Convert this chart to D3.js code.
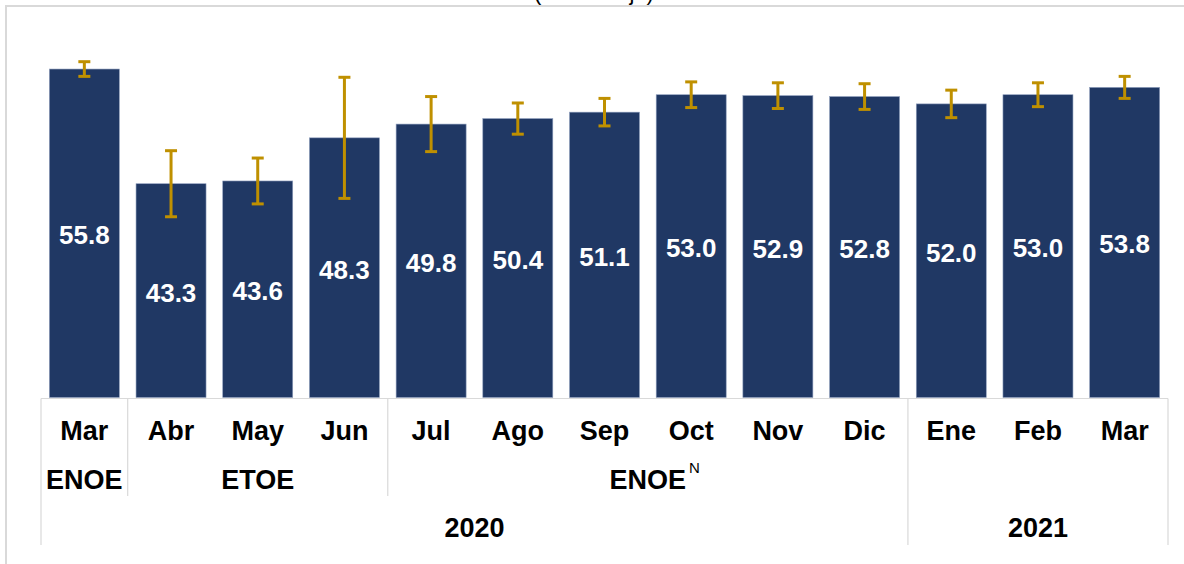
<!DOCTYPE html>
<html>
<head>
<meta charset="utf-8">
<script src="https://cdn.jsdelivr.net/npm/d3@7"></script>
<style>
  html, body { margin: 0; padding: 0; background: #ffffff; }
  svg { display: block; }
  text { font-family: "Liberation Sans", Arial, sans-serif; }
</style>
</head>
<body>
<svg id="chart" width="1184" height="564"></svg>
<script>
// ---- data ----
const months = ["Mar", "Abr", "May", "Jun", "Jul", "Ago", "Sep", "Oct", "Nov", "Dic", "Ene", "Feb", "Mar"];
const values = [55.8, 43.3, 43.6, 48.3, 49.8, 50.4, 51.1, 53.0, 52.9, 52.8, 52.0, 53.0, 53.8];
const errors = [0.8, 3.6, 2.5, 6.6, 3.0, 1.7, 1.5, 1.4, 1.4, 1.4, 1.5, 1.3, 1.2];
const surveyLabels = ["ENOE", "ETOE", "ENOE"];
const surveySup = ["", "", "N"];
const surveyStart = [0, 1, 4];
const surveyEnd = [1, 4, 10];
const yearLabels = ["2020", "2021"];
const yearStart = [0, 10];
const yearEnd = [10, 13];
const subtitle = "(Porcentaje)";

// ---- layout ----
const svg = d3.select("#chart");
const left = 41, right = 1168;
const baseY = 397.5, topY = 30.5;
const barColor = "#203864";
const errColor = "#BF9000";
const gridColor = "#d9d9d9";

const idx = d3.range(months.length);
const x = d3.scaleBand().domain(idx).range([left, right]).paddingInner(0.1925).paddingOuter(0.09625);
const y = d3.scaleLinear().domain([20, 60]).range([baseY, topY]);
const step = x.step();
const edge = i => left + step * i; // category boundary position

// outer chart-area border
svg.append("rect").attr("x", 6).attr("y", 6).attr("width", 1300).attr("height", 700)
  .attr("fill", "none").attr("stroke", "#d9d9d9").attr("stroke-width", 2);

// subtitle (cropped at the top edge, as in the reference)
svg.append("text").attr("x", 594).attr("y", 0).attr("text-anchor", "middle")
  .attr("font-size", 22).attr("fill", "#000").text(subtitle);

// bars
svg.append("g").selectAll("rect").data(idx).join("rect")
  .attr("x", i => x(i)).attr("width", x.bandwidth())
  .attr("y", i => y(values[i])).attr("height", i => baseY - y(values[i]))
  .attr("fill", barColor).attr("stroke", "#8f9fbd").attr("stroke-width", 0.6);

// error bars
const eg = svg.append("g").attr("stroke", errColor).attr("stroke-width", 3);
idx.forEach(i => {
  const cx = x(i) + x.bandwidth() / 2;
  const y1 = y(values[i] + errors[i]), y2 = y(values[i] - errors[i]);
  eg.append("line").attr("x1", cx).attr("x2", cx).attr("y1", y1).attr("y2", y2);
  eg.append("line").attr("x1", cx - 6).attr("x2", cx + 6).attr("y1", y1).attr("y2", y1);
  eg.append("line").attr("x1", cx - 6).attr("x2", cx + 6).attr("y1", y2).attr("y2", y2);
});

// value labels
svg.append("g").selectAll("text").data(idx).join("text")
  .attr("x", i => x(i) + x.bandwidth() / 2)
  .attr("y", i => (y(values[i]) + baseY) / 2 + 11)
  .attr("text-anchor", "middle").attr("font-size", 26).attr("font-weight", "bold")
  .attr("fill", "#ffffff").text(i => values[i].toFixed(1));

// axis line & separators
const ag = svg.append("g").attr("stroke", gridColor).attr("stroke-width", 1.2);
ag.append("line").attr("x1", left).attr("x2", right).attr("y1", baseY + 1).attr("y2", baseY + 1);
const yearEdges = new Set([...yearStart, ...yearEnd]);
const surveyEdges = new Set([...surveyStart, ...surveyEnd].filter(e => !yearEdges.has(e)));
yearEdges.forEach(e => ag.append("line").attr("x1", edge(e)).attr("x2", edge(e)).attr("y1", baseY + 1).attr("y2", 545));
surveyEdges.forEach(e => ag.append("line").attr("x1", edge(e)).attr("x2", edge(e)).attr("y1", baseY + 1).attr("y2", 496));

// month labels
svg.append("g").selectAll("text").data(idx).join("text")
  .attr("x", i => x(i) + x.bandwidth() / 2).attr("y", 439.5)
  .attr("text-anchor", "middle").attr("font-size", 27).attr("font-weight", "bold")
  .attr("fill", "#000").text(i => months[i]);

// survey labels
surveyLabels.forEach((s, k) => {
  const cx = (edge(surveyStart[k]) + edge(surveyEnd[k])) / 2;
  const t = svg.append("text").attr("x", cx).attr("y", 488.5).attr("text-anchor", "middle")
    .attr("font-size", 27).attr("font-weight", "bold").attr("fill", "#000").text(s);
  if (surveySup[k]) {
    const bb = t.node().getBBox();
    svg.append("text").attr("x", bb.x + bb.width + 3).attr("y", 473)
      .attr("font-size", 15).attr("fill", "#000").text(surveySup[k]);
  }
});

// year labels
yearLabels.forEach((s, k) => {
  const cx = (edge(yearStart[k]) + edge(yearEnd[k])) / 2;
  svg.append("text").attr("x", cx).attr("y", 537).attr("text-anchor", "middle")
    .attr("font-size", 27).attr("font-weight", "bold").attr("fill", "#000").text(s);
});
</script>
</body>
</html>
